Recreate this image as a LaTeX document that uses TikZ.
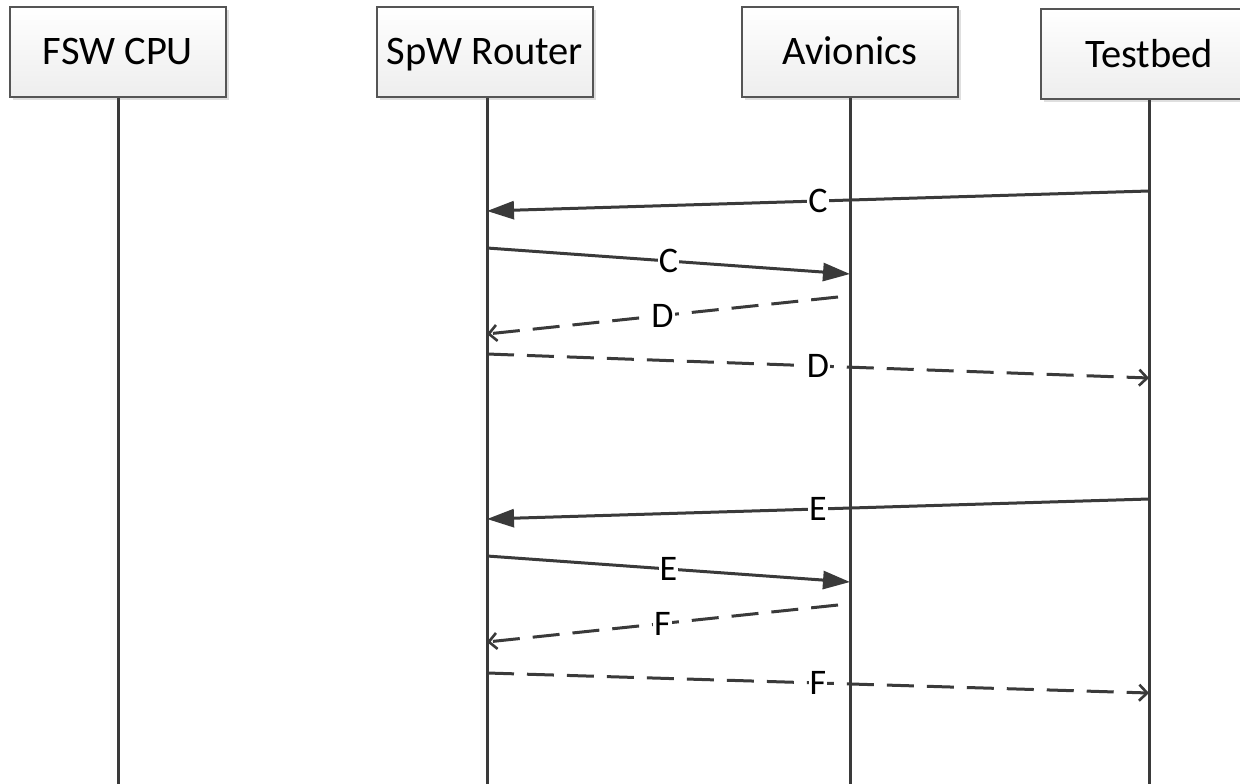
\documentclass[tikz,border=0pt]{standalone}
\usepackage{fontspec}
\setmainfont{Carlito}
\usetikzlibrary{arrows.meta,shadows}
\definecolor{ln}{HTML}{3A3A3A}
\definecolor{bd}{HTML}{555555}
\begin{document}
\begin{tikzpicture}[x=1pt,y=-1pt,
 actor/.style={draw=bd,line width=1.6pt,top color=white,bottom color=gray!14,minimum width=216pt,minimum height=90pt,inner sep=0pt,text height=26pt,text depth=0pt,font=\fontsize{40.5}{46}\selectfont,drop shadow={shadow xshift=3pt,shadow yshift=-3pt,opacity=0.25,fill=gray}},
 life/.style={draw=ln,line width=3pt},
 call/.style={draw=ln,line width=3pt,-{Triangle[length=27pt,width=18pt]}},
 reply/.style={draw=ln,line width=3pt,dash pattern=on 27pt off 13pt,-{Straight Barb[length=8pt,width=16pt,line width=2.6pt]}},
 lbl/.style={fill=white,inner sep=1pt,font=\fontsize{36}{42}\selectfont,text=black}]
\useasboundingbox (0,0) rectangle (1240,784);
\clip (0,0) rectangle (1240,784);
\fill[white] (0,0) rectangle (1240,784);
% actors
\node[actor] (fsw) at (118,52) {FSW CPU};
\node[actor] (spw) at (485,52) {SpW Router};
\node[actor] (av) at (850,52) {Avionics};
\node[actor] (tb) at (1149,54) {Testbed};
% lifeline ends
\coordinate (fswe) at (118,790);
\coordinate (spwe) at (487,790);
\coordinate (ave) at (850,790);
\coordinate (tbe) at (1149,790);
\draw[life] (fsw.south -| fswe) -- (fswe);
\draw[life] (spw.south -| spwe) -- (spwe);
\draw[life] (av.south -| ave) -- (ave);
\draw[life] (tb.south -| tbe) -- (tbe);
% message endpoints
\coordinate (c1s) at (1149,191); \coordinate (c1e) at (487,211);
\coordinate (c2s) at (487,248);  \coordinate (c2e) at (850,274);
\coordinate (d1s) at (838,297);  \coordinate (d1e) at (487,334);
\coordinate (d2s) at (487,354);  \coordinate (d2e) at (1149,378);
\coordinate (e1s) at (1149,499); \coordinate (e1e) at (487,519);
\coordinate (e2s) at (487,556);  \coordinate (e2e) at (850,582);
\coordinate (f1s) at (838,605);  \coordinate (f1e) at (487,642);
\coordinate (f2s) at (487,673);  \coordinate (f2e) at (1149,693);
% messages
\draw[call] (c1s) -- node[lbl] (lc1) {C} (c1e);
\draw[call] (c2s) -- node[lbl] (lc2) {C} (c2e);
\draw[reply] (d1s) -- node[lbl] (ld1) {D} (d1e);
\draw[reply] (d2s) -- node[lbl] (ld2) {D} (d2e);
\draw[call] (e1s) -- node[lbl] (le1) {E} (e1e);
\draw[call] (e2s) -- node[lbl] (le2) {E} (e2e);
\draw[reply] (f1s) -- node[lbl] (lf1) {F} (f1e);
\draw[reply] (f2s) -- node[lbl] (lf2) {F} (f2e);
\end{tikzpicture}
\end{document}
